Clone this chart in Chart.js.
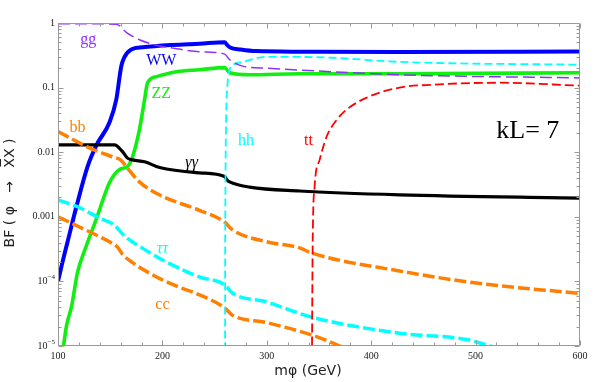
<!DOCTYPE html>
<html lang="en">
<head>
<meta charset="UTF-8">
<title>BF(phi -> XX), kL = 7</title>
<style>
  html, body { margin: 0; padding: 0; background: #fff; }
  .chart-container { position: relative; width: 602px; height: 382px; }
</style>
<script src="https://cdn.jsdelivr.net/npm/chart.js@4"></script>
</head>
<body>
<div class="chart-container"><canvas id="br-chart"></canvas></div>
<script>
// branching fractions, per decay channel (mass in GeV)
const massGG = [100, 140, 156, 165.7, 178, 192.5, 213.6, 235.6, 259.6, 264.4, 276.9, 300, 363, 427, 600];
const brGG   = [0.97, 0.97, 0.96, 0.71, 0.55, 0.46, 0.40, 0.36, 0.33, 0.27, 0.215, 0.20, 0.176, 0.158, 0.141];

const massWW = [100, 104, 109, 117.7, 128.3, 137, 149.4, 155.8, 160.6, 163.8, 170.2, 181, 210, 235.6, 259.6, 262, 265, 275, 290, 331.5, 427, 600];
const brWW   = [1.0e-4, 1.9e-4, 4.0e-4, 1.45e-3, 6.0e-3, 0.013, 0.029, 0.065, 0.214, 0.30, 0.39, 0.42, 0.457, 0.479, 0.505, 0.457, 0.417, 0.389, 0.367, 0.36, 0.355, 0.363];

const massZZ = [104.5, 108, 113, 118.7, 127, 136.6, 149.4, 159, 166.6, 171.4, 178, 182.9, 185.8, 194.4, 213.6, 235.6, 259.6, 264.4, 283.6, 331.5, 427, 600];
const brZZ   = [8e-6, 2.0e-5, 4.1e-5, 1.38e-4, 3.5e-4, 9.1e-4, 3.4e-3, 5.4e-3, 6.0e-3, 8.5e-3, 0.0224, 0.065, 0.119, 0.148, 0.176, 0.189, 0.204, 0.170, 0.158, 0.164, 0.164, 0.170];

const massHH = [260, 260.1, 260.4, 261, 262.5, 264.4, 270, 277, 300, 363, 427, 600];
const brHH   = [1e-6, 1e-4, 3e-3, 0.03, 0.12, 0.19, 0.235, 0.25, 0.30, 0.29, 0.25, 0.226];

const massTT = [343, 343.9, 345.8, 350.6, 357.3, 366.9, 376.5, 395.7, 427.3, 459, 523, 600];
const brTT   = [1e-6, 3.1e-4, 2.95e-3, 7.6e-3, 0.0174, 0.0316, 0.0457, 0.070, 0.10, 0.111, 0.119, 0.107];

const massAA = [100, 154, 161.8, 166.6, 171.4, 183, 197.3, 235.6, 259.6, 262, 264.4, 283.6, 331.5, 427, 600];
const brAA   = [0.013, 0.013, 0.0102, 0.0081, 0.0076, 0.0071, 0.0058, 0.0048, 0.0042, 0.0037, 0.00347, 0.00288, 0.00251, 0.00219, 0.00195];

const massBB = [100, 130, 152, 160, 165.7, 178, 197, 235.6, 259.6, 267, 300, 331.5, 343, 427, 499, 600];
const brBB   = [0.0209, 0.0117, 0.0085, 0.0076, 0.0059, 0.00347, 0.00219, 0.00126, 8.3e-4, 6.3e-4, 4.1e-4, 3.3e-4, 2.75e-4, 1.45e-4, 9.5e-5, 6.5e-5];

const massTauTau = [100, 121, 140, 154, 164, 178, 200, 235.6, 259.6, 267, 300, 343, 427, 491.6, 513.7, 530];
const brTauTau   = [1.82e-3, 1.38e-3, 9.5e-4, 7.4e-4, 5.0e-4, 3.5e-4, 2.15e-4, 1.17e-4, 8.9e-5, 6.6e-5, 4.8e-5, 2.8e-5, 1.58e-5, 1.26e-5, 1.0e-5, 8.5e-6];

const massCC = [100, 121, 140, 154, 157, 162, 171.5, 194.4, 216.5, 235.6, 259.6, 267, 300, 343, 370, 380];
const brCC   = [1.0e-3, 6.9e-4, 4.9e-4, 3.7e-4, 3.4e-4, 2.6e-4, 1.95e-4, 1.17e-4, 8.1e-5, 6.2e-5, 3.9e-5, 3.0e-5, 2.3e-5, 1.48e-5, 1.0e-5, 8.5e-6];

// axis ticks
const xTickValues = [100, 200, 300, 400, 500, 600];
const yTickValues = [1, 0.1, 0.01, 0.001, 1e-4, 1e-5];
const yTickLabels = [['1', ''], ['0.1', ''], ['0.01', ''], ['0.001', ''], ['10', '\u22124'], ['10', '\u22125']];

const ORANGE = '#ff8000', CYAN = '#00ffff';

function pts(xs, ys) {
    return xs.map((m, i) => ({ x: m, y: ys[i] }));
}

function line(label, xs, ys, color, width, dash) {
    return {
        label: label,
        data: pts(xs, ys),
        borderColor: color,
        borderWidth: width,
        borderDash: dash || [],
        borderCapStyle: 'butt',
        pointRadius: 0,
        fill: false,
        cubicInterpolationMode: 'monotone',
        clip: 0
    };
}

// curve name tags, placed in data units
const curveTags = [
    { text: 'gg', x: 129, y: 0.55, color: '#8f30ff' },
    { text: 'WW', x: 199, y: 0.26, color: '#0000ff' },
    { text: 'ZZ', x: 199, y: 0.080, color: '#11ee11' },
    { text: 'bb', x: 118.7, y: 0.024, color: ORANGE },
    { text: 'γγ', x: 228, y: 0.0069, color: '#000', italic: true },
    { text: 'hh', x: 280, y: 0.015, color: CYAN },
    { text: 'tt', x: 340, y: 0.015, color: '#ff0000' },
    { text: 'ττ', x: 200, y: 3.2e-4, color: CYAN, italic: true },
    { text: 'cc', x: 200, y: 4.4e-5, color: ORANGE }
];

const frameTicks = {
    id: 'frameTicks',
    afterDatasetsDraw(chart) {
        const ctx = chart.ctx;
        const a = chart.chartArea;
        const xs = chart.scales.x, ys = chart.scales.y;
        const L = Math.round(a.left) + 0.5, R = Math.round(a.right) - 0.5;
        const T = Math.round(a.top) + 0.5, B = Math.round(a.bottom) - 0.5;

        ctx.save();
        ctx.strokeStyle = '#999';
        ctx.lineWidth = 1;
        ctx.beginPath();
        ctx.rect(L, T, R - L, B - T);
        for (let v = 100; v <= 600; v += 20) {
            const px = Math.round(xs.getPixelForValue(v)) + 0.5;
            const len = v % 100 === 0 ? 5 : 3;
            ctx.moveTo(px, B); ctx.lineTo(px, B - len);
            ctx.moveTo(px, T); ctx.lineTo(px, T + len);
        }
        for (let e = -5; e <= 0; e++) {
            for (let k = 1; k <= 9; k++) {
                const v = k * Math.pow(10, e);
                if (v > 1.0001) break;
                const py = Math.round(ys.getPixelForValue(v)) + 0.5;
                const len = k === 1 ? 5 : 3;
                ctx.moveTo(L, py); ctx.lineTo(L + len, py);
                ctx.moveTo(R, py); ctx.lineTo(R - len, py);
            }
        }
        ctx.stroke();

        // tick labels
        ctx.fillStyle = '#222';
        ctx.font = '10px "Liberation Serif", serif';
        ctx.textAlign = 'center';
        ctx.textBaseline = 'middle';
        xTickValues.forEach(v => {
            ctx.fillText(String(v), xs.getPixelForValue(v), a.bottom + 10);
        });
        yTickValues.forEach((v, i) => {
            const py = ys.getPixelForValue(v);
            const [base, sup] = yTickLabels[i];
            let right = a.left - 3;
            ctx.textAlign = 'right';
            if (sup) {
                ctx.font = '7px "Liberation Serif", serif';
                const w = ctx.measureText(sup).width;
                ctx.fillText(sup, right, py - 4);
                right -= w;
            }
            ctx.font = '10px "Liberation Serif", serif';
            ctx.fillText(base, right, py);
        });

        // axis titles
        ctx.font = '14px "DejaVu Sans", sans-serif';
        ctx.textAlign = 'center';
        ctx.fillText('m\u03c6 (GeV)', 308, 371);
        ctx.save();
        ctx.translate(10, 193);
        ctx.rotate(-Math.PI / 2);
        ctx.fillText('BF ( \u03c6   \u2192   X\u0305X )', 0, 0);
        ctx.restore();

        // curve tags
        curveTags.forEach(t => {
            ctx.font = (t.italic ? 'italic ' : '') + '16px "Liberation Serif", serif';
            ctx.fillStyle = t.color;
            ctx.fillText(t.text, xs.getPixelForValue(t.x), ys.getPixelForValue(t.y));
        });

        ctx.font = '26px "Liberation Serif", serif';
        ctx.fillStyle = '#000';
        ctx.fillText('kL= 7', xs.getPixelForValue(550), ys.getPixelForValue(0.0215));
        ctx.restore();
    }
};

document.addEventListener('DOMContentLoaded', () => {
    const canvas = document.getElementById('br-chart');

    new Chart(canvas, {
        type: 'line',
        data: {
            datasets: [
                line('gg', massGG, brGG, '#8f30ff', 1.5, [12, 5]),
                line('hh', massHH, brHH, CYAN, 1.8, [8, 4]),
                line('tt', massTT, brTT, '#ff0000', 1.8, [9, 4]),
                line('bb', massBB, brBB, ORANGE, 3.5, [12, 4]),
                line('tautau', massTauTau, brTauTau, CYAN, 3.5, [12, 4]),
                line('cc', massCC, brCC, ORANGE, 3.5, [12, 4]),
                line('gamgam', massAA, brAA, '#000000', 3.2),
                line('ZZ', massZZ, brZZ, '#11ee11', 3.6),
                line('WW', massWW, brWW, '#0000ff', 4)
            ]
        },
        options: {
            responsive: true,
            maintainAspectRatio: false,
            animation: false,
            layout: { padding: { left: 58, right: 22, top: 23, bottom: 36 } },
            scales: {
                x: { type: 'linear', min: 100, max: 600, display: false },
                y: { type: 'logarithmic', min: 1e-5, max: 1, display: false }
            },
            plugins: {
                legend: { display: false },
                tooltip: { enabled: false }
            }
        },
        plugins: [frameTicks]
    });
});
</script>
</body>
</html>
